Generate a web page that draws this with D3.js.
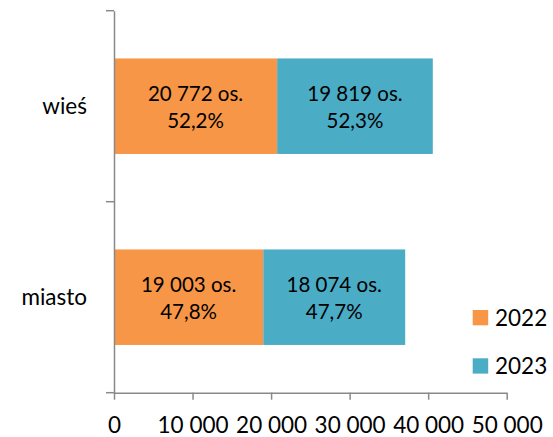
<!DOCTYPE html>
<html><head><meta charset="utf-8">
<script src="https://cdn.jsdelivr.net/npm/d3@7"></script>
<style>
html,body{margin:0;padding:0;background:#fff;}
svg{display:block;font-family:Lato, "Open Sans", sans-serif;}
</style></head>
<body>
<svg id="chart" width="553" height="437"></svg>
<script>
const categories = ["wieś", "miasto"];
const seriesNames = ["2022", "2023"];
const values2022 = [20772, 19003];
const values2023 = [19819, 18074];
const xTicks = [0, 10000, 20000, 30000, 40000, 50000];
const colors = ["#F79646", "#4BACC6"];

const loc = d3.formatLocale({decimal: ",", thousands: " ", grouping: [3], currency: ["", ""]});
const fmtNum = loc.format(",");
const fmtPct = loc.format(".1%");

const svg = d3.select("#chart");
const x = d3.scaleLinear().domain([0, 50000]).range([114, 506.7]);
const y = d3.scaleBand().domain(categories).range([10.7, 392.7]).paddingInner(0.5).paddingOuter(0.25);

const seriesVals = [values2022, values2023];
const totals = seriesVals.map(v => d3.sum(v));
const stackData = categories.map((c, i) => ({cat: c, "2022": values2022[i], "2023": values2023[i]}));
const stack = d3.stack().keys(seriesNames)(stackData);

const axisColor = "#898989";

// bars
stack.forEach((layer, si) => {
  const g = svg.append("g");
  g.selectAll("rect").data(layer).join("rect")
    .attr("x", d => x(d[0]))
    .attr("width", d => x(d[1]) - x(d[0]))
    .attr("y", d => y(d.data.cat))
    .attr("height", y.bandwidth())
    .attr("fill", colors[si]);
  const t = g.selectAll("text").data(layer).join("text")
    .attr("text-anchor", "middle")
    .attr("font-size", 20.5)
    .attr("fill", "#000");
  t.append("tspan")
    .attr("x", d => (x(d[0]) + x(d[1])) / 2)
    .attr("y", d => y(d.data.cat) + y.bandwidth() / 2 - 5.3)
    .text(d => fmtNum(d.data[seriesNames[si]]) + " os.");
  t.append("tspan")
    .attr("x", d => (x(d[0]) + x(d[1])) / 2)
    .attr("y", d => y(d.data.cat) + y.bandwidth() / 2 + 21.3)
    .text(d => fmtPct(d.data[seriesNames[si]] / totals[si]));
});

// x axis
const xAxis = svg.append("g").attr("transform", "translate(0,392.7)")
  .call(d3.axisBottom(x).tickValues(xTicks).tickSize(7).tickSizeOuter(0).tickFormat(d => fmtNum(d)));
xAxis.select(".domain").attr("stroke", axisColor).attr("stroke-width", 1.5);
xAxis.selectAll(".tick line").attr("stroke", axisColor).attr("stroke-width", 1.5);
xAxis.selectAll(".tick text").attr("dy", null).attr("y", 40.8).attr("font-size", 22.5)
  .attr("font-family", "Lato").attr("fill", "#000");

// y axis
const yAxis = svg.append("g").attr("transform", "translate(114,0)")
  .call(d3.axisLeft(y).tickSize(0).tickPadding(27));
yAxis.select(".domain").attr("stroke", axisColor).attr("stroke-width", 1.5);
yAxis.selectAll(".tick text").attr("dy", "0.36em").attr("font-size", 22.5)
  .attr("font-family", "Lato").attr("fill", "#000");
// boundary ticks
const bounds = [y.range()[0], ...categories.map(c => y(c) + y.bandwidth() + y.step() * 0.25)];
yAxis.selectAll("line.bound").data(bounds).join("line").attr("class", "bound")
  .attr("x1", -8).attr("x2", 0).attr("y1", d => d).attr("y2", d => d)
  .attr("stroke", axisColor).attr("stroke-width", 1.5);

// legend
const legend = svg.append("g");
seriesNames.forEach((s, i) => {
  const ly = 310 + i * 48.3;
  legend.append("rect").attr("x", 472.7).attr("y", ly).attr("width", 15.5).attr("height", 15.3).attr("fill", colors[i]);
  legend.append("text").attr("x", 495).attr("y", ly + 15.7).attr("font-size", 22.5).attr("fill", "#000").text(s);
});
</script>
</body></html>
